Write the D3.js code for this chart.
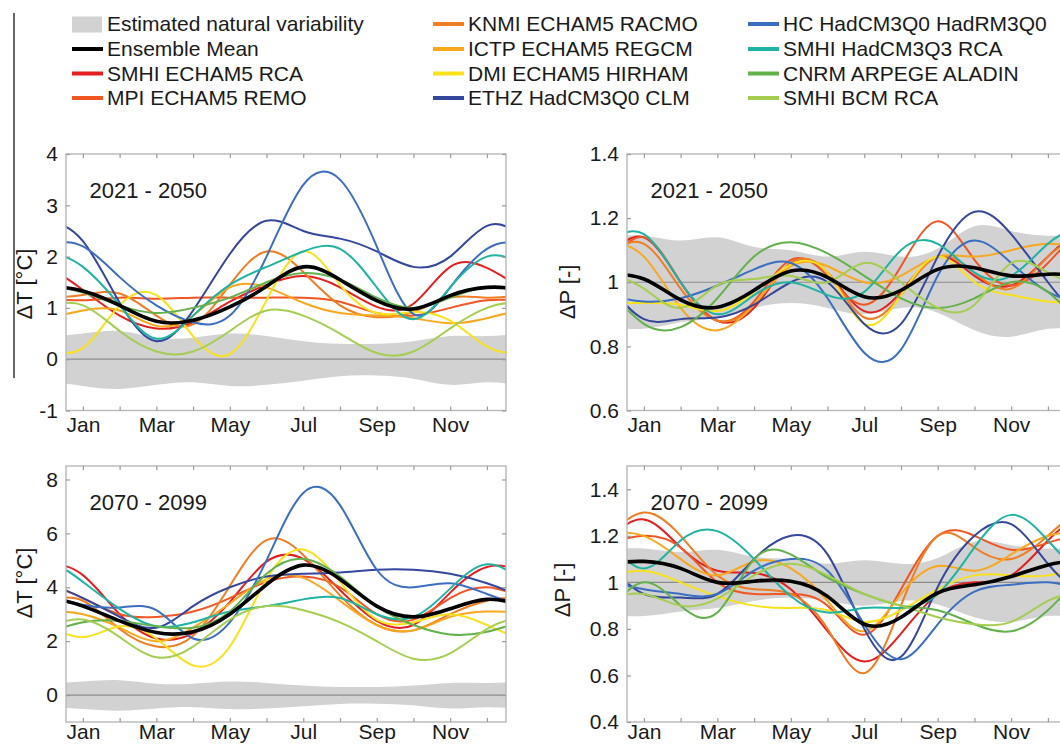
<!DOCTYPE html>
<html>
<head>
<meta charset="utf-8">
<script src="https://cdn.jsdelivr.net/npm/d3@7"></script>
<style>
  html, body { margin: 0; padding: 0; background: #fff; }
  svg { display: block; font-family: "Liberation Sans", Arial, Helvetica, sans-serif; }
</style>
</head>
<body>
<svg id="chart" width="1060" height="744"></svg>
<script>
// ---- data -------------------------------------------------------------
const months = ["Jan","Feb","Mar","Apr","May","Jun","Jul","Aug","Sep","Oct","Nov","Dec"];
const monthLabels = ["Jan","Mar","May","Jul","Sep","Nov"];

const models = [
  "SMHI ECHAM5 RCA", "MPI ECHAM5 REMO", "KNMI ECHAM5 RACMO", "ICTP ECHAM5 REGCM",
  "DMI ECHAM5 HIRHAM", "ETHZ HadCM3Q0 CLM", "HC HadCM3Q0 HadRM3Q0", "SMHI HadCM3Q3 RCA",
  "CNRM ARPEGE ALADIN", "SMHI BCM RCA"
];
const modelColors = [
  "#e3201f", "#f15524", "#ef7d23", "#f9a71c", "#f9e11b",
  "#34479c", "#3b6ec0", "#1fb3a3", "#62b14b", "#a5cd50"
];

// monthly temperature change (°C), one row per model, 2021-2050
const tempNear = [
  [1.35, 0.85, 0.60, 0.72, 1.12, 1.45, 1.62, 1.40, 1.02, 1.08, 1.80, 1.78],
  [1.15, 1.20, 1.18, 1.20, 1.20, 1.20, 1.20, 1.12, 0.90, 0.85, 1.00, 1.15],
  [1.25, 1.28, 0.85, 0.68, 1.45, 2.10, 1.70, 1.05, 0.82, 0.92, 1.20, 1.20],
  [0.95, 0.95, 0.65, 0.85, 1.40, 1.40, 1.10, 0.90, 0.85, 0.80, 0.70, 0.80],
  [0.22, 1.05, 1.25, 0.45, 0.10, 1.15, 2.10, 1.45, 0.90, 0.92, 0.75, 0.25],
  [2.30, 1.10, 0.35, 0.95, 2.05, 2.70, 2.50, 2.35, 2.10, 1.80, 2.00, 2.60],
  [2.20, 1.60, 1.05, 0.72, 0.85, 2.00, 3.40, 3.50, 2.20, 0.88, 1.40, 2.15],
  [1.80, 1.05, 0.40, 0.85, 1.45, 1.80, 2.10, 2.15, 1.40, 0.78, 1.40, 2.00],
  [1.30, 1.05, 0.90, 1.00, 1.20, 1.50, 1.68, 1.55, 1.20, 1.00, 1.20, 1.40],
  [1.05, 0.55, 0.15, 0.15, 0.55, 0.95, 0.85, 0.50, 0.12, 0.15, 0.60, 1.00]
];
const tempNearMean = [1.33, 1.05, 0.74, 0.76, 1.02, 1.42, 1.80, 1.55, 1.14, 0.98, 1.24, 1.40];

// monthly temperature change (°C), 2070-2099
const tempFar = [
  [4.45, 3.00, 2.10, 2.30, 3.45, 4.95, 5.05, 3.90, 2.75, 2.60, 3.80, 4.75],
  [3.60, 3.00, 2.90, 3.10, 3.60, 4.20, 4.40, 4.00, 3.00, 2.80, 3.60, 4.00],
  [3.50, 2.45, 1.80, 2.20, 4.05, 5.75, 5.20, 3.70, 2.60, 2.40, 3.00, 3.50],
  [3.00, 2.50, 2.00, 2.50, 3.40, 4.30, 4.35, 3.50, 2.60, 2.40, 2.90, 3.10],
  [2.15, 2.55, 2.10, 1.10, 1.80, 4.30, 5.40, 4.20, 2.80, 2.70, 3.00, 2.60],
  [3.60, 2.90, 2.50, 3.30, 4.00, 4.40, 4.50, 4.55, 4.65, 4.65, 4.50, 4.15],
  [3.35, 3.25, 3.15, 2.10, 2.70, 5.00, 7.50, 7.05, 4.65, 4.00, 4.15, 3.75],
  [4.20, 3.20, 2.55, 2.70, 3.10, 3.30, 3.55, 3.60, 3.00, 2.90, 3.95, 4.85],
  [2.70, 2.75, 2.55, 2.50, 3.10, 4.50, 5.05, 4.40, 3.30, 2.60, 2.25, 2.35],
  [2.80, 2.15, 1.40, 1.80, 2.80, 3.30, 3.15, 2.70, 2.00, 1.35, 1.55, 2.45]
];
const tempFarMean = [3.30, 2.75, 2.32, 2.35, 3.00, 4.10, 4.82, 4.30, 3.30, 2.90, 3.20, 3.55];

// monthly precipitation ratio (-), 2021-2050
const precNear = [
  [1.14, 1.00, 0.88, 0.92, 1.06, 1.03, 0.91, 0.97, 1.08, 1.02, 0.99, 1.08],
  [1.14, 1.00, 0.88, 0.94, 1.07, 1.02, 0.93, 1.05, 1.19, 1.07, 0.99, 1.06],
  [1.12, 0.98, 0.88, 0.93, 1.06, 1.03, 0.89, 0.96, 1.08, 1.03, 0.98, 1.08],
  [1.08, 0.92, 0.85, 0.93, 1.05, 1.05, 1.00, 1.02, 1.08, 1.08, 1.10, 1.12],
  [0.935, 0.93, 0.91, 0.97, 1.055, 1.03, 0.87, 0.96, 1.08, 1.00, 0.96, 0.94],
  [0.885, 0.885, 0.89, 0.93, 1.00, 1.00, 0.87, 0.87, 1.08, 1.22, 1.15, 1.00],
  [0.94, 0.95, 0.99, 1.04, 1.06, 0.95, 0.78, 0.79, 1.02, 1.13, 1.06, 0.97],
  [1.15, 1.00, 0.90, 0.96, 1.00, 0.96, 0.97, 1.10, 1.12, 1.03, 1.02, 1.12],
  [0.87, 0.86, 0.95, 1.08, 1.125, 1.09, 1.02, 0.95, 0.92, 0.95, 1.00, 0.97],
  [0.98, 0.92, 0.99, 1.01, 1.02, 1.00, 1.06, 1.00, 0.92, 0.93, 1.06, 1.03]
];
const precNearMean = [1.01, 0.945, 0.922, 0.975, 1.035, 1.015, 0.955, 0.975, 1.04, 1.045, 1.02, 1.025];

// monthly precipitation ratio (-), 2070-2099
const precFar = [
  [1.27, 1.15, 1.05, 1.04, 0.97, 0.79, 0.66, 0.78, 0.95, 1.00, 1.03, 1.18],
  [1.20, 1.15, 1.00, 0.95, 0.95, 0.90, 0.775, 0.97, 1.20, 1.20, 1.14, 1.17],
  [1.30, 1.20, 1.03, 0.97, 0.95, 0.80, 0.61, 0.90, 1.20, 1.15, 1.10, 1.20],
  [1.20, 1.10, 1.03, 1.09, 1.06, 0.92, 0.79, 0.95, 1.07, 1.05, 1.12, 1.20],
  [1.05, 1.00, 0.94, 0.90, 0.89, 0.88, 0.83, 0.88, 0.97, 1.03, 1.03, 1.03],
  [0.95, 0.935, 0.95, 1.10, 1.20, 1.12, 0.80, 0.68, 0.98, 1.20, 1.25, 1.08],
  [0.97, 0.95, 0.95, 1.05, 1.10, 1.05, 0.82, 0.67, 0.82, 0.96, 0.99, 1.00],
  [1.06, 1.18, 1.22, 1.10, 0.94, 0.87, 0.89, 0.89, 0.95, 1.15, 1.29, 1.18],
  [1.00, 0.90, 0.87, 1.10, 1.12, 1.02, 0.95, 0.90, 0.88, 0.82, 0.79, 0.88],
  [0.95, 0.90, 0.93, 1.03, 1.08, 1.03, 0.95, 0.90, 0.85, 0.82, 0.83, 0.92]
];
const precFarMean = [1.09, 1.06, 1.00, 1.005, 1.005, 0.94, 0.82, 0.85, 0.955, 0.99, 1.025, 1.075];

// estimated natural variability envelopes
const tempBandUpper = [0.50, 0.55, 0.42, 0.42, 0.50, 0.45, 0.35, 0.30, 0.30, 0.35, 0.45, 0.45];
const tempBandLower = [-0.52, -0.58, -0.50, -0.45, -0.52, -0.50, -0.42, -0.33, -0.32, -0.38, -0.50, -0.45];
const precBandUpper = [1.145, 1.13, 1.14, 1.11, 1.10, 1.08, 1.095, 1.08, 1.105, 1.175, 1.16, 1.145];
const precBandLower = [0.855, 0.875, 0.89, 0.92, 0.935, 0.92, 0.90, 0.92, 0.905, 0.85, 0.83, 0.855];

// tick values
const tempNearTicks = [-1, 0, 1, 2, 3, 4];
const tempFarTicks = [0, 2, 4, 6, 8];
const precNearTicks = [0.6, 0.8, 1, 1.2, 1.4];
const precFarTicks = [0.4, 0.6, 0.8, 1, 1.2, 1.4];

// ---- drawing ----------------------------------------------------------
const svg = d3.select("#chart");
const FONT = "#1a1a1a";

// periodic extension so the smoothed annual cycle runs off both frame edges
function cyclic(vals) {
  const pts = vals.map((v, i) => ({ m: i + 1, v }));
  return [{ m: -1, v: vals[10] }, { m: 0, v: vals[11] }, ...pts,
          { m: 13, v: vals[0] }, { m: 14, v: vals[1] }];
}
function cyclicBand(lo, hi) {
  const a = cyclic(lo), b = cyclic(hi);
  return a.map((d, i) => ({ m: d.m, lo: d.v, hi: b[i].v }));
}

const panels = [
  { id: "tn", left: 66, top: 154, bottom: 410.5, yDomain: [-1, 4], ticks: tempNearTicks,
    series: tempNear, mean: tempNearMean, bandLo: tempBandLower, bandHi: tempBandUpper, ref: 0,
    period: "2021 - 2050", label: "ΔT [°C]", labelX: 24, labelY: 284, pad: 7 },
  { id: "pn", left: 627, top: 154, bottom: 410.5, yDomain: [0.6, 1.4], ticks: precNearTicks,
    series: precNear, mean: precNearMean, bandLo: precBandLower, bandHi: precBandUpper, ref: 1,
    period: "2021 - 2050", label: "ΔP [-]", labelX: 567, labelY: 292, pad: 7 },
  { id: "tf", left: 66, top: 466, bottom: 722, yDomain: [-1, 8.5], ticks: tempFarTicks,
    series: tempFar, mean: tempFarMean, bandLo: tempBandLower, bandHi: tempBandUpper, ref: 0,
    period: "2070 - 2099", label: "ΔT [°C]", labelX: 24, labelY: 583, pad: 2.5 },
  { id: "pf", left: 627, top: 466, bottom: 722, yDomain: [0.4, 1.5], ticks: precFarTicks,
    series: precFar, mean: precFarMean, bandLo: precBandLower, bandHi: precBandUpper, ref: 1,
    period: "2070 - 2099", label: "ΔP [-]", labelX: 562, labelY: 590, pad: 2.5 }
];
const PANEL_W = 440;

panels.forEach(p => {
  const right = p.left + PANEL_W;
  const x = d3.scaleLinear().domain([0.54, 12.52]).range([p.left, right]);
  const y = d3.scaleLinear().domain(p.yDomain).range([p.bottom, p.top]);
  const g = svg.append("g");

  g.append("clipPath").attr("id", "clip-" + p.id)
    .append("rect").attr("x", p.left).attr("y", p.top)
    .attr("width", PANEL_W).attr("height", p.bottom - p.top);

  const plot = g.append("g").attr("clip-path", `url(#clip-${p.id})`);

  const area = d3.area().x(d => x(d.m)).y0(d => y(d.lo)).y1(d => y(d.hi)).curve(d3.curveNatural);
  plot.append("path").datum(cyclicBand(p.bandLo, p.bandHi))
    .attr("d", area).attr("fill", "#d2d2d2");

  plot.append("line")
    .attr("x1", p.left).attr("x2", right)
    .attr("y1", y(p.ref)).attr("y2", y(p.ref))
    .attr("stroke", "#8c8c8c").attr("stroke-width", 1.2);

  const line = d3.line().x(d => x(d.m)).y(d => y(d.v)).curve(d3.curveNatural);
  plot.selectAll("path.model").data(p.series).join("path")
    .attr("class", "model")
    .attr("d", d => line(cyclic(d)))
    .attr("fill", "none")
    .attr("stroke", (d, i) => modelColors[i])
    .attr("stroke-width", 2);

  plot.append("path").datum(cyclic(p.mean))
    .attr("d", line).attr("fill", "none")
    .attr("stroke", "#000").attr("stroke-width", 3.6);

  // frame
  g.append("rect").attr("x", p.left).attr("y", p.top)
    .attr("width", PANEL_W).attr("height", p.bottom - p.top)
    .attr("fill", "none").attr("stroke", "#b8b8b8").attr("stroke-width", 1.4);

  // inward tick marks on all four sides
  const monthIdx = d3.range(1, 13);
  const tickStyle = sel => {
    sel.select(".domain").remove();
    sel.selectAll(".tick line").attr("stroke", "#9a9a9a").attr("stroke-width", 1.2);
  };
  g.append("g").attr("transform", `translate(0,${p.bottom})`)
    .call(d3.axisBottom(x).tickValues(monthIdx).tickSize(-4).tickFormat(""))
    .call(tickStyle);
  g.append("g").attr("transform", `translate(0,${p.top})`)
    .call(d3.axisTop(x).tickValues(monthIdx).tickSize(-4).tickFormat(""))
    .call(tickStyle);
  g.append("g").attr("transform", `translate(${p.left},0)`)
    .call(d3.axisLeft(y).tickValues(p.ticks).tickSize(-4).tickFormat(""))
    .call(tickStyle);
  g.append("g").attr("transform", `translate(${right},0)`)
    .call(d3.axisRight(y).tickValues(p.ticks).tickSize(-4).tickFormat(""))
    .call(tickStyle);

  // tick labels
  const labelStyle = sel => {
    sel.select(".domain").remove();
    sel.selectAll(".tick line").remove();
    sel.selectAll("text").attr("font-size", 21).attr("fill", FONT)
      .attr("font-family", "'Liberation Sans', Arial, sans-serif");
  };
  g.append("g").attr("transform", `translate(0,${p.bottom})`)
    .call(d3.axisBottom(x).tickValues([1, 3, 5, 7, 9, 11])
      .tickFormat(m => months[m - 1]).tickSize(0).tickPadding(p.pad))
    .call(labelStyle);
  g.append("g").attr("transform", `translate(${p.left},0)`)
    .call(d3.axisLeft(y).tickValues(p.ticks)
      .tickFormat(v => String(+v.toFixed(1))).tickSize(0).tickPadding(8))
    .call(labelStyle);

  // period label
  g.append("text").attr("x", x(1.18)).attr("y", p.top + 43.5)
    .attr("font-size", 22).attr("fill", FONT).text(p.period);

  // axis title
  g.append("text")
    .attr("transform", `translate(${p.labelX},${p.labelY}) rotate(-90)`)
    .attr("text-anchor", "middle").attr("dy", "0.35em")
    .attr("font-size", 22).attr("fill", FONT).text(p.label);
});

// ---- legend -----------------------------------------------------------
const legendItems = [
  { name: "Estimated natural variability", kind: "band", color: "#d2d2d2" },
  { name: "Ensemble Mean", kind: "line", color: "#000" },
  ...models.map((m, i) => ({ name: m, kind: "line", color: modelColors[i] }))
];
const legendCols = [72, 433, 748];
const legendRows = [31, 56, 80.5, 105];
const legend = svg.append("g");
legendItems.forEach((item, i) => {
  const col = Math.floor(i / 4), row = i % 4;
  const x0 = legendCols[col], base = legendRows[row];
  if (item.kind === "band") {
    legend.append("rect").attr("x", x0).attr("y", base - 14.5)
      .attr("width", 30).attr("height", 16).attr("fill", item.color);
  } else {
    legend.append("line").attr("x1", x0).attr("x2", x0 + 31)
      .attr("y1", base - 7).attr("y2", base - 7)
      .attr("stroke", item.color).attr("stroke-width", 4);
  }
  legend.append("text").attr("x", x0 + 35).attr("y", base)
    .attr("font-size", 21).attr("fill", FONT).text(item.name);
});

// vertical rule at the far left
svg.append("line").attr("x1", 14).attr("x2", 14).attr("y1", 13).attr("y2", 378)
  .attr("stroke", "#333").attr("stroke-width", 1.5);
</script>
</body>
</html>
